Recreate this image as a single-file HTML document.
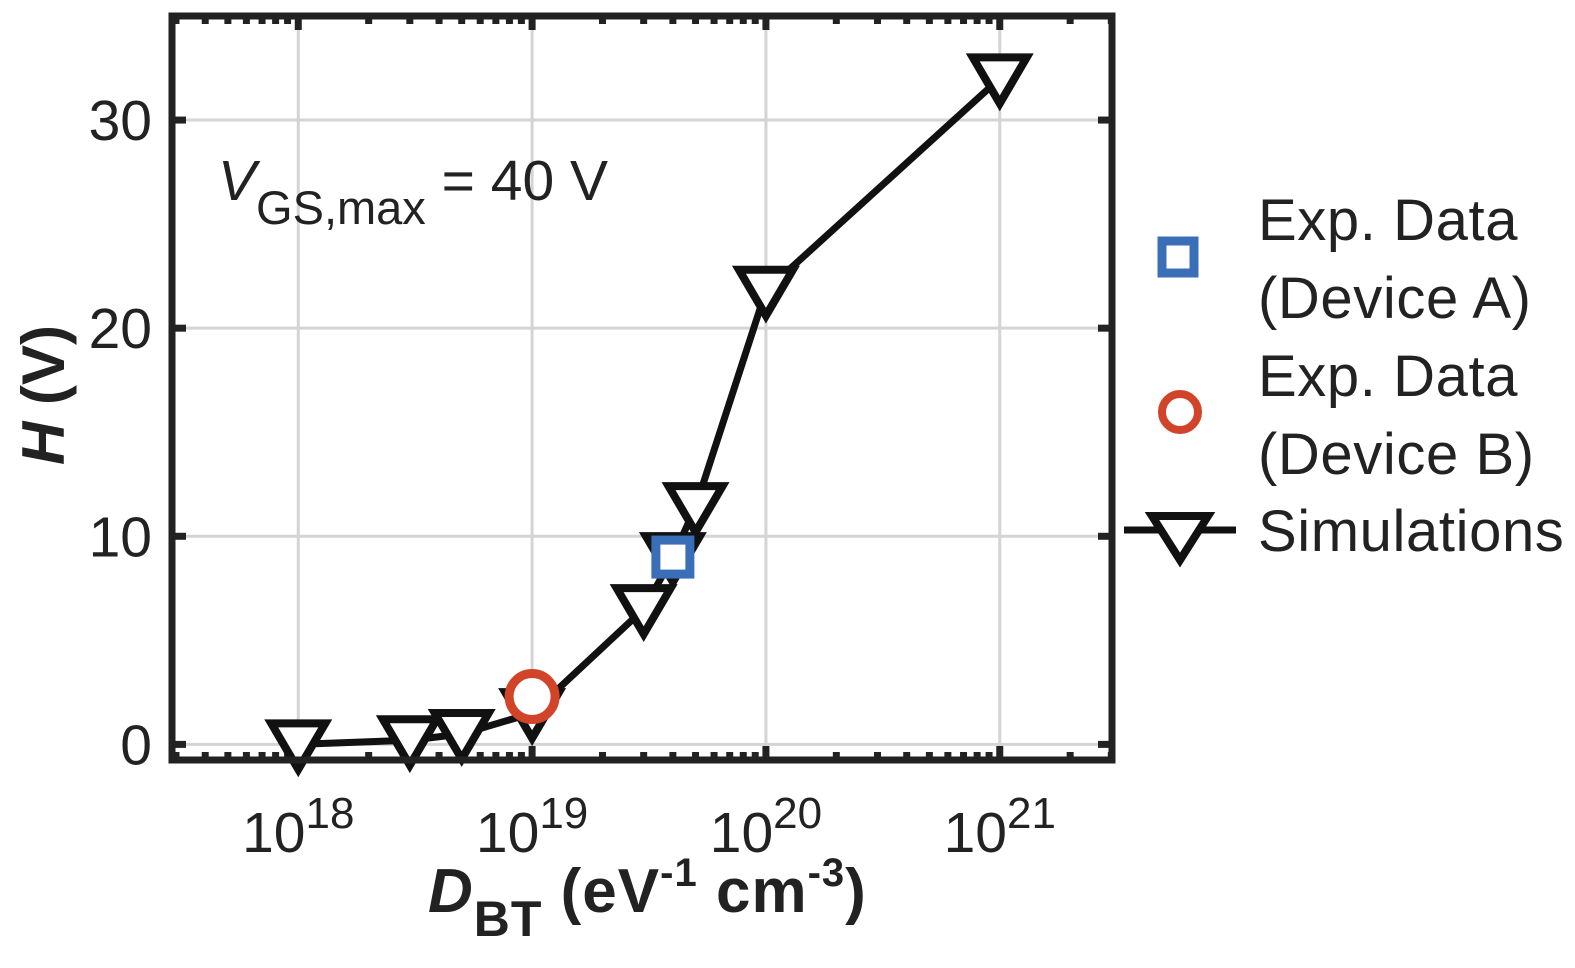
<!DOCTYPE html>
<html><head><meta charset="utf-8"><style>
html,body{margin:0;padding:0;background:#fff;}
svg{display:block;font-family:"Liberation Sans",Arial,sans-serif;}
</style></head><body>
<svg id="chart" width="1575" height="968" viewBox="0 0 1575 968" xmlns="http://www.w3.org/2000/svg">
<g id="grid"></g>
<g id="ticks"></g>
<g id="series"></g>
<rect x="172" y="16" width="940" height="744" fill="none" stroke="#222" stroke-width="7"/>
<g id="labels" font-size="57" fill="#222"></g>
<text x="218" y="200" font-size="57" fill="#222"><tspan font-style="italic">V</tspan><tspan font-size="47" dy="24">GS,max</tspan><tspan dy="-24"> = 40 V</tspan></text>
<text x="428" y="912" font-size="62" font-weight="bold" fill="#222" letter-spacing="1"><tspan font-style="italic">D</tspan><tspan font-size="50" dy="24">BT</tspan><tspan dy="-24"> (eV</tspan><tspan font-size="40" dy="-26">-1</tspan><tspan dy="26"> cm</tspan><tspan font-size="40" dy="-26">-3</tspan><tspan dy="26">)</tspan></text>
<text transform="translate(64,395) rotate(-90)" text-anchor="middle" font-size="60" font-weight="bold" fill="#222"><tspan font-style="italic">H</tspan> (V)</text>
<g font-size="58" fill="#222" letter-spacing="0.6">
<rect x="1162" y="241" width="32" height="32" fill="#fff" stroke="#3a6fb8" stroke-width="9"/>
<text x="1258" y="240">Exp. Data<tspan x="1258" y="318">(Device A)</tspan></text>
<circle cx="1180" cy="412" r="18" fill="#fff" stroke="#d2442a" stroke-width="8"/>
<text x="1258" y="396">Exp. Data<tspan x="1258" y="474">(Device B)</tspan></text>
<line x1="1124" y1="530" x2="1236" y2="530" stroke="#111" stroke-width="7"/>
<polygon points="1152,516 1208,516 1180,560" fill="#fff" stroke="#111" stroke-width="8" stroke-linejoin="miter"/>
<text x="1258" y="551">Simulations</text>
</g>
</svg>
<script>
const simX = [1e18, 3e18, 5e18, 1e19, 3e19, 4e19, 5e19, 1e20, 1e21];
const simH = [0.0, 0.2, 0.5, 1.5, 6.5, 9.0, 11.4, 21.8, 32.0];
const devAX = [4e19];
const devAH = [9.0];
const devBX = [1e19];
const devBH = [2.3];
const yTicks = [0, 10, 20, 30];
const xTickExps = [18, 19, 20, 21];

const NS = "http://www.w3.org/2000/svg";
const X0 = 172, X1 = 1112, Y0 = 16, Y1 = 760;
const LMIN = 17.46, LMAX = 21.48, HMIN = -0.75, HMAX = 35.0;
function sx(v){ return X0 + (Math.log10(v) - LMIN) / (LMAX - LMIN) * (X1 - X0); }
function sy(v){ return Y1 - (v - HMIN) / (HMAX - HMIN) * (Y1 - Y0); }
function mk(tag, attrs, parent){ const e = document.createElementNS(NS, tag); for (const k in attrs) e.setAttribute(k, attrs[k]); parent.appendChild(e); return e; }

const grid = document.getElementById('grid');
const ticks = document.getElementById('ticks');
const labels = document.getElementById('labels');
const series = document.getElementById('series');

xTickExps.forEach(function(p){
  const x = sx(Math.pow(10, p));
  const g = mk('line', {x1:x, y1:Y0, x2:x, y2:Y1, stroke:'#d4d4d4', 'stroke-width':3}, grid);
  
  
  const t = mk('text', {x:x, y:852, 'text-anchor':'middle'}, labels);
  
  
  t.textContent = '10';
  const s = mk('tspan', {dy:-24, 'font-size':44}, t);
  s.textContent = String(p);
});
yTicks.forEach(function(v){
  const y = sy(v);
  const g = mk('line', {x1:X0, y1:y, x2:X1, y2:y, stroke:'#d4d4d4', 'stroke-width':3}, grid);
  
  
  [[X0, X0 + 14], [X1 - 14, X1]].forEach(function(r){
    const tk = mk('line', {x1:r[0], y1:y, x2:r[1], y2:y, stroke:'#222', 'stroke-width':7}, ticks);
    
    
  });
  const t = mk('text', {x:152, y:y + 20, 'text-anchor':'end'}, labels);
  
  
  t.textContent = String(v);
});
for (let p = 17; p <= 21; p++) {
  for (let m = 1; m <= 9; m++) {
    const v = m * Math.pow(10, p);
    const l = Math.log10(v);
    if (l < LMIN || l > LMAX) continue;
    const x = sx(v);
    const len = m === 1 ? 14 : 8;
    [[Y0, Y0 + len], [Y1 - len, Y1]].forEach(function(r){
      const tk = mk('line', {x1:x, y1:r[0], x2:x, y2:r[1], stroke:'#222', 'stroke-width':7}, ticks);
      
      
    });
  }
}

const pts = simX.map(function(x, i){ return sx(x) + ',' + sy(simH[i]); }).join(' ');
const line = mk('polyline', {points:pts, fill:'none', stroke:'#111', 'stroke-width':7, 'stroke-linejoin':'round'}, series);


simX.forEach(function(x, i){
  const cx = sx(x), cy = sy(simH[i]);
  const tri = mk('polygon', {points:(cx-27)+','+(cy-21)+' '+(cx+27)+','+(cy-21)+' '+cx+','+(cy+25), fill:'#fff', stroke:'#111', 'stroke-width':8}, series);
  
  
});
devBX.forEach(function(x, i){
  const c = mk('circle', {cx:sx(x), cy:sy(devBH[i]), r:23, fill:'#fff', stroke:'#d2442a', 'stroke-width':9}, series);
  
  
});
devAX.forEach(function(x, i){
  const r = mk('rect', {x:sx(x) - 17, y:sy(devAH[i]) - 17, width:34, height:34, fill:'#fff', stroke:'#3a6fb8', 'stroke-width':9}, series);
  
  
});
</script>
</body></html>
